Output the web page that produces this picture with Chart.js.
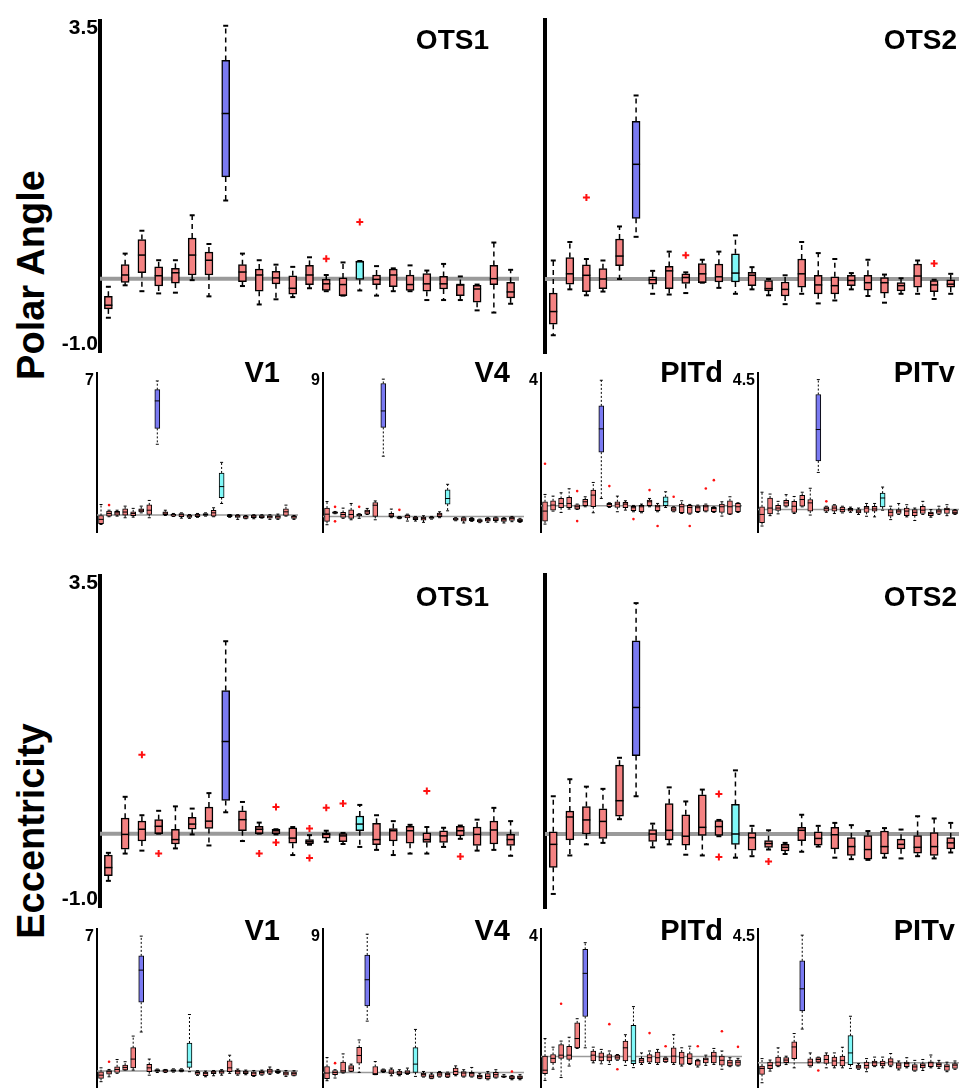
<!DOCTYPE html>
<html>
<head>
<meta charset="utf-8">
<script src="https://cdn.jsdelivr.net/npm/chart.js@4.4.1/dist/chart.umd.min.js"></script>
<style>
  html, body { margin: 0; padding: 0; background: #fff; overflow: hidden; }
  #fig { position: relative; width: 965px; height: 1088px; overflow: hidden; background: #fff; }
  #fig canvas { position: absolute; }
  .side { position: absolute; font: bold 38px "Liberation Sans", Arial, sans-serif; line-height: 38px;
          white-space: nowrap; transform: translate(-50%, -50%) rotate(-90deg); color: #000; }
  .ttl { position: absolute; font-family: "Liberation Sans", Arial, sans-serif; font-weight: bold;
         line-height: 1; white-space: nowrap; color: #000; text-align: right; }
</style>
</head>
<body>
<div id="fig">
  <div class="side" style="left:31px;top:275px">Polar Angle</div>
  <div class="side" style="left:31px;top:831px">Eccentricity</div>
</div>
<script>
// one box = [lower whisker, q1, median, q3, upper whisker]
const boxLabels = ['1','2','3','4','5','6','7','8','9','10','11','12','13','14','15','16','17','18','19','20','21','22','23','24','25'];

const bigTickLabels = ['-1.0', '3.5'];
const v1TickLabels = ['7'];
const v4TickLabels = ['9'];
const pitdTickLabels = ['4'];
const pitvTickLabels = ['4.5'];

// ---------- Polar Angle ----------
const paOts1 = [
  [-0.53,-0.41,-0.36,-0.24,-0.11],[-0.09,-0.05,0.05,0.19,0.34],[-0.17,0.08,0.32,0.53,0.65],[-0.20,-0.10,0.04,0.16,0.25],
  [-0.19,-0.06,0.08,0.14,0.25],[-0.02,0.05,0.32,0.55,0.86],[-0.24,0.05,0.25,0.36,0.47],[1.06,1.38,2.24,2.96,3.43],
  [-0.10,-0.04,0.09,0.19,0.34],[-0.35,-0.17,0.05,0.13,0.25],[-0.28,-0.07,0.01,0.10,0.19],[-0.25,-0.21,-0.13,0.04,0.16],
  [-0.13,-0.08,0.05,0.18,0.29],[-0.17,-0.16,-0.07,-0.01,0.05],[-0.23,-0.23,-0.08,0.01,0.22],[-0.16,-0.01,0.23,0.24,0.24],
  [-0.23,-0.08,-0.01,0.05,0.17],[-0.17,-0.11,0.05,0.13,0.14],[-0.17,-0.16,-0.08,0.05,0.18],[-0.29,-0.17,-0.07,0.07,0.11],
  [-0.29,-0.14,-0.07,0.03,0.20],[-0.29,-0.23,-0.08,-0.08,0.03],[-0.43,-0.32,-0.14,-0.09,-0.08],[-0.46,-0.08,0.0,0.18,0.49],
  [-0.34,-0.26,-0.18,-0.05,0.12]
];
const paOts1Out = [[13, 0.27], [15, 0.77]];

const paOts2 = [
  [-0.76,-0.61,-0.44,-0.19,0.25],[-0.14,-0.07,0.07,0.29,0.50],[-0.22,-0.17,0.05,0.19,0.27],[-0.17,-0.13,0.0,0.14,0.25],
  [0.0,0.18,0.31,0.54,0.71],[0.57,0.82,1.55,2.13,2.48],[-0.20,-0.07,-0.01,0.03,0.11],[-0.21,-0.13,0.11,0.17,0.37],
  [-0.19,-0.06,0.02,0.07,0.09],[-0.05,-0.05,0.07,0.21,0.26],[-0.12,-0.04,0.03,0.20,0.37],[-0.20,-0.04,0.08,0.34,0.59],
  [-0.14,-0.09,0.05,0.09,0.16],[-0.22,-0.16,-0.13,-0.02,0.0],[-0.34,-0.23,-0.14,-0.04,0.05],[-0.20,-0.11,0.07,0.27,0.50],
  [-0.33,-0.20,-0.08,0.05,0.35],[-0.29,-0.20,-0.09,0.03,0.27],[-0.14,-0.09,-0.02,0.05,0.08],[-0.23,-0.15,-0.05,0.05,0.26],
  [-0.32,-0.19,-0.05,0.02,0.06],[-0.20,-0.16,-0.09,-0.05,0.01],[-0.20,-0.11,0.04,0.20,0.25],[-0.27,-0.17,-0.08,-0.02,-0.01],
  [-0.20,-0.11,-0.07,-0.01,0.07]
];
const paOts2Out = [[2, 1.10], [8, 0.32], [23, 0.21]];

const paV1 = [
  [-0.46,-0.42,-0.21,-0.02,0.52],[-0.08,-0.05,0.08,0.20,0.24],[-0.05,0.0,0.11,0.18,0.24],[-0.13,0.0,0.15,0.31,0.44],
  [-0.10,-0.03,0.08,0.16,0.33],[0.11,0.15,0.24,0.31,0.44],[-0.13,0.03,0.24,0.50,0.72],[3.48,4.26,5.61,6.16,6.59],
  [-0.02,0.02,0.10,0.16,0.24],[-0.07,-0.05,0.02,0.05,0.08],[-0.15,-0.08,0.02,0.08,0.11],[-0.16,-0.11,-0.05,0.0,0.03],
  [-0.11,-0.08,0.0,0.05,0.08],[-0.05,-0.02,0.03,0.08,0.11],[-0.08,-0.05,0.11,0.24,0.36],[0.57,0.86,1.40,2.07,2.59],
  [-0.11,-0.08,-0.02,0.02,0.03],[-0.21,-0.11,-0.05,0.0,0.02],[-0.18,-0.16,-0.08,-0.03,-0.02],[-0.18,-0.13,-0.05,0.0,0.02],
  [-0.15,-0.13,-0.05,-0.02,0.02],[-0.21,-0.15,-0.08,-0.02,0.02],[-0.21,-0.16,-0.08,-0.02,0.05],[-0.05,-0.02,0.16,0.31,0.49],
  [-0.21,-0.16,-0.08,-0.03,-0.02]
];
const paV1Out = [[1, 0.49]];

const paV4 = [
  [-0.52,-0.31,0.14,0.52,0.93],[0.17,0.19,0.25,0.29,0.31],[-0.12,-0.06,0.12,0.25,0.52],[-0.21,-0.12,0.12,0.41,0.81],
  [-0.12,0.04,0.10,0.14,0.17],[0.12,0.14,0.29,0.39,0.50],[-0.21,0.0,0.70,0.87,0.97],[3.77,5.57,6.60,8.32,8.59],
  [-0.08,-0.02,0.08,0.19,0.46],[-0.14,-0.12,-0.06,-0.02,0.0],[-0.29,-0.10,0.04,0.10,0.14],[-0.29,-0.21,-0.12,-0.04,0.0],
  [-0.37,-0.23,-0.12,-0.04,0.04],[-0.17,-0.12,-0.06,-0.02,0.0],[-0.08,-0.02,0.10,0.21,0.29],[0.35,0.77,1.12,1.66,2.01],
  [-0.27,-0.23,-0.17,-0.10,-0.08],[-0.41,-0.29,-0.17,-0.08,-0.04],[-0.31,-0.27,-0.19,-0.12,-0.08],[-0.39,-0.35,-0.27,-0.19,-0.17],
  [-0.37,-0.29,-0.21,-0.12,-0.08],[-0.35,-0.27,-0.17,-0.08,-0.04],[-0.41,-0.31,-0.21,-0.12,-0.08],[-0.33,-0.25,-0.12,-0.04,0.0],
  [-0.37,-0.33,-0.25,-0.17,-0.12]
];
const paV4Out = [[1, 0.60], [1, -0.31], [4, 0.60], [9, 0.41]];

const paPitd = [
  [-0.55,-0.46,-0.16,0.12,0.34],[-0.16,-0.13,0.02,0.15,0.29],[-0.20,-0.06,0.07,0.22,0.39],[-0.10,-0.06,0.07,0.25,0.51],
  [-0.11,-0.10,-0.03,0.03,0.05],[-0.03,0.0,0.12,0.19,0.27],[-0.21,-0.03,0.32,0.47,0.70],[0.22,1.61,2.31,3.0,3.77],
  [-0.05,-0.03,0.04,0.07,0.09],[-0.18,-0.05,0.05,0.12,0.29],[-0.13,-0.06,0.05,0.10,0.15],[-0.18,-0.15,-0.06,-0.02,0.01],
  [-0.21,-0.18,-0.03,0.01,0.05],[-0.03,0.0,0.12,0.17,0.22],[-0.18,-0.15,-0.03,0.02,0.07],[-0.05,0.0,0.12,0.27,0.42],
  [-0.18,-0.16,-0.10,-0.04,-0.03],[-0.23,-0.21,-0.03,0.05,0.15],[-0.25,-0.23,-0.05,0.01,0.04],[-0.20,-0.18,-0.06,-0.01,0.02],
  [-0.18,-0.16,-0.03,0.02,0.05],[-0.20,-0.18,-0.08,-0.05,-0.03],[-0.31,-0.20,-0.03,0.05,0.12],[-0.26,-0.25,-0.03,0.15,0.27],
  [-0.20,-0.18,-0.03,0.07,0.09]
];
const paPitdOut = [[0, 1.26], [4, 0.44], [4, -0.46], [8, 0.59], [11, -0.40], [13, 0.47], [14, -0.61], [16, 0.27], [18, -0.61], [20, 0.52], [21, 0.77]];

const paPitv = [
  [-0.54,-0.43,-0.16,0.09,0.57],[-0.20,-0.14,0.05,0.38,0.51],[-0.14,-0.03,0.05,0.14,0.27],[0.09,0.11,0.22,0.30,0.49],
  [-0.13,-0.09,0.11,0.27,0.43],[0.09,0.11,0.33,0.47,0.57],[-0.18,-0.05,0.22,0.33,0.70],[1.22,1.60,2.63,3.78,4.27],
  [-0.09,-0.05,0.03,0.09,0.11],[-0.13,-0.05,0.05,0.13,0.16],[-0.11,-0.08,0.0,0.08,0.11],[-0.09,-0.05,0.0,0.04,0.08],
  [-0.16,-0.11,-0.05,0.0,0.05],[-0.22,-0.09,0.05,0.11,0.20],[-0.24,-0.05,0.02,0.11,0.20],[-0.02,0.09,0.38,0.54,0.74],
  [-0.33,-0.22,-0.09,0.0,0.11],[-0.16,-0.13,-0.05,0.0,0.20],[-0.24,-0.20,-0.05,0.05,0.16],[-0.36,-0.20,-0.09,0.0,0.05],
  [-0.16,-0.13,-0.02,0.11,0.27],[-0.25,-0.20,-0.13,-0.08,0.0],[-0.16,-0.13,-0.05,0.0,0.11],[-0.20,-0.13,0.0,0.05,0.16],
  [-0.16,-0.14,-0.09,-0.02,0.0]
];
const paPitvOut = [[8, 0.27]];

// ---------- Eccentricity ----------
const ecOts1 = [
  [-0.64,-0.57,-0.46,-0.29,-0.26],[-0.27,-0.21,-0.01,0.21,0.50],[-0.23,-0.10,0.06,0.17,0.25],[0.0,0.0,0.10,0.19,0.31],
  [-0.20,-0.14,-0.08,0.06,0.37],[-0.01,0.06,0.13,0.22,0.34],[-0.16,0.07,0.17,0.36,0.55],[0.29,0.45,1.25,1.94,2.61],
  [-0.10,0.04,0.19,0.31,0.43],[0.0,0.0,0.06,0.10,0.15],[-0.01,0.0,0.04,0.06,0.06],[-0.29,-0.13,-0.06,0.08,0.09],
  [-0.15,-0.14,-0.11,-0.08,-0.02],[-0.11,-0.06,-0.01,0.01,0.04],[-0.14,-0.11,-0.03,0.0,0.01],[-0.18,0.04,0.13,0.24,0.39],
  [-0.22,-0.15,-0.08,0.14,0.25],[-0.29,-0.10,0.04,0.07,0.17],[-0.27,-0.13,0.04,0.10,0.12],[-0.27,-0.12,-0.08,0.01,0.09],
  [-0.18,-0.12,-0.03,0.04,0.08],[-0.07,-0.03,0.04,0.10,0.11],[-0.23,-0.16,-0.01,0.09,0.19],[-0.22,-0.14,0.05,0.17,0.35],
  [-0.30,-0.16,-0.08,-0.01,0.17]
];
const ecOts1Out = [[2, 1.07], [3, -0.27], [9, -0.27], [10, 0.36], [10, -0.12], [12, 0.07], [12, -0.33], [13, 0.35], [14, 0.41], [19, 0.58], [21, -0.31]];

const ecOts2 = [
  [-0.81,-0.45,-0.14,0.03,0.51],[-0.29,-0.08,0.23,0.31,0.74],[-0.14,0.0,0.19,0.37,0.64],[-0.12,-0.06,0.17,0.34,0.61],
  [0.20,0.24,0.45,0.93,1.03],[0.51,1.06,1.71,2.61,3.12],[-0.18,-0.10,0.0,0.06,0.14],[-0.14,-0.08,0.05,0.41,0.63],
  [-0.28,-0.15,-0.03,0.26,0.44],[-0.29,-0.02,0.09,0.53,0.60],[-0.03,-0.02,0.10,0.18,0.19],[-0.32,-0.14,0.0,0.40,0.86],
  [-0.30,-0.22,-0.05,0.02,0.11],[-0.21,-0.18,-0.13,-0.09,0.05],[-0.27,-0.23,-0.18,-0.14,-0.12],[-0.24,-0.09,0.05,0.09,0.26],
  [-0.17,-0.15,-0.06,0.03,0.11],[-0.32,-0.20,-0.01,0.09,0.15],[-0.34,-0.29,-0.17,-0.05,0.12],[-0.35,-0.34,-0.21,-0.02,0.04],
  [-0.32,-0.27,-0.17,0.04,0.08],[-0.33,-0.20,-0.14,-0.07,0.06],[-0.30,-0.26,-0.18,-0.02,0.24],[-0.33,-0.29,-0.17,0.02,0.21],
  [-0.25,-0.20,-0.12,-0.05,0.15]
];
const ecOts2Out = [[10, 0.54], [10, -0.31], [13, -0.37]];

const ecV1 = [
  [-0.52,-0.36,-0.20,-0.03,0.16],[-0.28,-0.15,-0.03,0.03,0.08],[-0.11,-0.07,0.08,0.21,0.57],[0.05,0.05,0.18,0.29,0.46],
  [0.05,0.16,0.59,1.15,1.72],[1.92,3.38,4.96,5.66,6.63],[-0.20,-0.03,0.16,0.33,0.59],[-0.07,-0.02,0.03,0.07,0.10],
  [-0.07,-0.05,0.02,0.07,0.08],[-0.05,-0.02,0.03,0.08,0.11],[-0.03,-0.02,0.03,0.08,0.11],[-0.03,0.18,0.44,1.38,2.78],
  [-0.21,-0.16,-0.07,-0.02,0.02],[-0.28,-0.23,-0.11,-0.05,0.0],[-0.23,-0.13,-0.05,0.0,0.03],[-0.20,-0.11,-0.03,0.02,0.07],
  [-0.11,-0.03,0.16,0.50,0.78],[-0.20,-0.15,-0.03,0.05,0.10],[-0.18,-0.13,-0.05,0.0,0.05],[-0.26,-0.23,-0.10,-0.03,0.03],
  [-0.20,-0.16,-0.07,0.0,0.05],[-0.16,-0.11,0.0,0.10,0.20],[-0.11,-0.08,-0.02,0.03,0.08],[-0.26,-0.20,-0.10,-0.03,0.03],
  [-0.23,-0.21,-0.11,-0.03,0.02]
];
const ecV1Out = [[1, 0.46]];

const ecV4 = [
  [-0.52,-0.39,-0.04,0.37,0.93],[-0.35,-0.14,0.0,0.12,0.17],[-0.04,0.0,0.10,0.64,1.16],[0.06,0.06,0.27,0.43,0.52],
  [0.0,0.58,1.06,1.57,2.03],[3.21,4.16,5.80,7.35,8.65],[-0.14,-0.14,-0.08,0.37,0.68],[0.0,0.04,0.10,0.17,0.21],
  [-0.21,-0.10,0.02,0.17,0.27],[-0.21,-0.14,-0.04,0.08,0.17],[-0.12,-0.08,0.02,0.12,0.27],[-0.25,0.0,0.52,1.55,2.69],
  [-0.29,-0.25,-0.12,-0.04,0.06],[-0.39,-0.37,-0.25,-0.14,-0.04],[-0.29,-0.25,-0.10,0.0,0.06],[-0.31,-0.29,-0.14,-0.04,0.02],
  [-0.21,-0.14,0.06,0.27,0.41],[-0.29,-0.25,-0.04,0.06,0.17],[-0.29,-0.25,-0.08,0.0,0.31],[-0.39,-0.37,-0.25,-0.17,-0.08],
  [-0.46,-0.41,-0.25,-0.08,0.06],[-0.35,-0.31,-0.14,0.0,0.17],[-0.31,-0.29,-0.25,-0.21,-0.14],[-0.46,-0.39,-0.29,-0.21,-0.19],
  [-0.46,-0.39,-0.29,-0.21,-0.14]
];
const ecV4Out = [[1, 0.58], [23, 0.06]];

const ecPitd = [
  [-0.75,-0.54,-0.43,0.01,0.56],[-0.40,-0.20,-0.06,0.06,0.29],[-0.66,-0.06,0.04,0.37,0.48],[-0.30,-0.09,0.04,0.32,0.60],
  [0.25,0.27,0.56,1.05,1.18],[0.27,1.25,2.60,3.35,3.56],[-0.20,-0.14,0.04,0.17,0.29],[-0.23,-0.14,-0.02,0.11,0.22],
  [-0.25,-0.14,-0.02,0.06,0.17],[-0.12,-0.09,-0.02,0.04,0.06],[-0.28,-0.14,0.27,0.48,0.68],[-0.35,-0.23,-0.14,0.97,1.56],
  [-0.25,-0.20,-0.12,-0.06,0.11],[-0.22,-0.18,-0.04,0.06,0.17],[-0.25,-0.20,-0.04,0.14,0.22],[-0.18,-0.17,-0.09,-0.04,-0.02],
  [-0.25,-0.20,0.01,0.27,0.68],[-0.30,-0.25,-0.04,0.14,0.27],[-0.25,-0.23,-0.06,0.09,0.32],[-0.33,-0.28,-0.14,-0.11,-0.09],
  [-0.28,-0.20,-0.09,-0.04,0.04],[-0.25,-0.20,0.01,0.14,0.25],[-0.40,-0.27,-0.12,0.01,0.17],[-0.32,-0.30,-0.20,-0.11,-0.04],
  [-0.30,-0.28,-0.18,-0.11,-0.06]
];
const ecPitdOut = [[2, 1.65], [8, 1.01], [9, -0.40], [13, 0.73], [15, 0.32], [19, 0.32], [22, 0.79], [24, 0.30]];

const ecPitv = [
  [-0.67,-0.39,-0.19,-0.11,0.14],[-0.28,-0.20,-0.09,0.02,0.09],[-0.13,-0.11,0.02,0.19,0.50],[-0.06,0.0,0.09,0.17,0.22],
  [-0.17,0.14,0.53,0.70,0.98],[1.13,1.74,2.48,3.42,4.28],[-0.14,-0.11,0.02,0.13,0.33],[0.0,0.02,0.11,0.17,0.19],
  [-0.17,-0.02,0.11,0.26,0.33],[-0.17,-0.11,0.06,0.19,0.33],[-0.17,-0.11,0.08,0.22,0.52],[-0.19,-0.06,0.33,0.91,1.56],
  [-0.22,-0.19,-0.14,-0.08,-0.03],[-0.30,-0.19,-0.09,0.02,0.14],[-0.13,-0.11,0.0,0.06,0.19],[-0.17,-0.11,-0.03,0.06,0.19],
  [-0.13,-0.09,0.03,0.14,0.31],[-0.24,-0.19,-0.08,0.0,0.06],[-0.17,-0.13,-0.03,0.02,0.17],[-0.28,-0.26,-0.14,-0.06,0.08],
  [-0.26,-0.17,-0.09,-0.03,0.11],[-0.17,-0.13,0.0,0.03,0.26],[-0.19,-0.14,-0.06,0.0,0.08],[-0.30,-0.26,-0.13,-0.06,0.02],
  [-0.22,-0.19,-0.08,-0.03,0.06]
];
const ecPitvOut = [[7, -0.26]];

const RED = '#f48282';
const BLUE = '#7a7af2';
const CYAN = '#80f8f8';
const FONT = '"Liberation Sans", Arial, sans-serif';

// panel layout: axisX = left edge of the plot, top/h = plot area
const panels = [
  { title: 'OTS1', stats: paOts1, out: paOts1Out, ticks: bigTickLabels, min: -1, max: 3.5, axisX: 100, top: 20, w: 425, h: 333, blue: 7, cyan: 15, big: true, tx: 489, ty: 26 },
  { title: 'OTS2', stats: paOts2, out: paOts2Out, ticks: [], min: -1, max: 3.5, axisX: 545, top: 20, w: 420, h: 333, blue: 5, cyan: 11, big: true, tx: 957, ty: 26 },
  { title: 'V1', stats: paV1, out: paV1Out, ticks: v1TickLabels, min: -0.85, max: 7, axisX: 97, top: 372, w: 205, h: 161, blue: 7, cyan: 15, tx: 280, ty: 358 },
  { title: 'V4', stats: paV4, out: paV4Out, ticks: v4TickLabels, min: -1, max: 9, axisX: 323, top: 372, w: 205, h: 161, blue: 7, cyan: 15, tx: 510, ty: 358 },
  { title: 'PITd', stats: paPitd, out: paPitdOut, ticks: pitdTickLabels, min: -0.8, max: 4, axisX: 541, top: 372, w: 205, h: 161, blue: 7, cyan: 15, tx: 723, ty: 358 },
  { title: 'PITv', stats: paPitv, out: paPitvOut, ticks: pitvTickLabels, min: -0.75, max: 4.5, axisX: 758, top: 372, w: 205, h: 161, blue: 7, cyan: 15, tx: 955, ty: 358 },
  { title: 'OTS1', stats: ecOts1, out: ecOts1Out, ticks: bigTickLabels, min: -1, max: 3.5, axisX: 100, top: 575, w: 425, h: 333, blue: 7, cyan: 15, big: true, tx: 489, ty: 583 },
  { title: 'OTS2', stats: ecOts2, out: ecOts2Out, ticks: [], min: -1, max: 3.5, axisX: 545, top: 575, w: 420, h: 333, blue: 5, cyan: 11, big: true, tx: 957, ty: 583 },
  { title: 'V1', stats: ecV1, out: ecV1Out, ticks: v1TickLabels, min: -0.85, max: 7, axisX: 97, top: 928, w: 205, h: 161, blue: 5, cyan: 11, tx: 280, ty: 916 },
  { title: 'V4', stats: ecV4, out: ecV4Out, ticks: v4TickLabels, min: -1, max: 9, axisX: 323, top: 928, w: 205, h: 161, blue: 5, cyan: 11, tx: 510, ty: 916 },
  { title: 'PITd', stats: ecPitd, out: ecPitdOut, ticks: pitdTickLabels, min: -1, max: 4, axisX: 541, top: 928, w: 205, h: 161, blue: 5, cyan: 11, tx: 723, ty: 916 },
  { title: 'PITv', stats: ecPitv, out: ecPitvOut, ticks: pitvTickLabels, min: -0.86, max: 4.5, axisX: 758, top: 928, w: 205, h: 161, blue: 5, cyan: 11, tx: 955, ty: 916 }
];

function seg(ctx, x1, y1, x2, y2) {
  ctx.beginPath();
  ctx.moveTo(x1, y1);
  ctx.lineTo(x2, y2);
  ctx.stroke();
}

// zero line, whiskers, caps and medians
const boxPlugin = {
  id: 'boxes',
  beforeDatasetsDraw(chart, args, opts) {
    const { ctx, chartArea: a, scales: { y } } = chart;
    const y0 = y.getPixelForValue(0);
    ctx.save();
    ctx.strokeStyle = '#9a9a9a';
    ctx.lineWidth = opts.baseW;
    seg(ctx, a.left, y0, a.right, y0);
    ctx.restore();
  },
  afterDatasetsDraw(chart, args, opts) {
    const { ctx, scales: { y } } = chart;
    const meta = chart.getDatasetMeta(0);
    const stats = chart.data.datasets[0].stats;
    ctx.save();
    ctx.strokeStyle = '#000';
    meta.data.forEach((bar, i) => {
      const [lo, q1, med, q3, hi] = stats[i];
      const x = bar.x, hw = bar.width / 2;
      const yLo = y.getPixelForValue(lo), yQ1 = y.getPixelForValue(q1);
      const yMed = y.getPixelForValue(med), yQ3 = y.getPixelForValue(q3), yHi = y.getPixelForValue(hi);
      ctx.lineWidth = opts.whiskW;
      ctx.setLineDash(opts.dash);
      if (yHi < yQ3 - 1) seg(ctx, x, yQ3, x, yHi);
      if (yLo > yQ1 + 1) seg(ctx, x, yQ1, x, yLo);
      ctx.setLineDash([]);
      ctx.lineWidth = opts.capW;
      seg(ctx, x - opts.cap, yHi, x + opts.cap, yHi);
      seg(ctx, x - opts.cap, yLo, x + opts.cap, yLo);
      ctx.lineWidth = opts.medW;
      seg(ctx, x - hw, yMed, x + hw, yMed);
    });
    ctx.restore();
  }
};

function makePanel(p) {
  const fig = document.getElementById('fig');
  const big = !!p.big;
  const labelW = big ? 70 : 45;
  const pad = big ? 14 : 12;
  const cv = document.createElement('canvas');
  cv.width = labelW + p.w;
  cv.height = pad * 2 + p.h;
  cv.style.width = cv.width + 'px';
  cv.style.height = cv.height + 'px';
  cv.style.left = (p.axisX - labelW) + 'px';
  cv.style.top = (p.top - pad) + 'px';
  fig.appendChild(cv);

  const t = document.createElement('div');
  t.className = 'ttl';
  t.textContent = p.title;
  t.style.fontSize = (big ? 28 : 29) + 'px';
  t.style.right = (965 - p.tx) + 'px';
  t.style.top = p.ty + 'px';
  fig.appendChild(t);

  const perPx = (p.max - p.min) / p.h;
  const inset = 8 * perPx;
  const colours = p.stats.map((s, i) => i === p.blue ? BLUE : (i === p.cyan ? CYAN : RED));

  new Chart(cv, {
    type: 'bar',
    data: {
      labels: boxLabels,
      datasets: [
        {
          data: p.stats.map(s => [s[1], s[3]]),
          stats: p.stats,
          backgroundColor: colours,
          borderColor: '#000',
          borderWidth: big ? 1.5 : 1,
          borderSkipped: false,
          barThickness: big ? 8 : 5,
          order: 2
        },
        {
          type: 'scatter',
          data: p.out.map(([i, v]) => ({ x: boxLabels[i], y: v })),
          pointStyle: big ? 'cross' : 'circle',
          pointRadius: big ? 3.5 : 1.3,
          borderWidth: big ? 2 : 0,
          borderColor: '#ff1010',
          backgroundColor: '#ff1010',
          order: 1
        }
      ]
    },
    options: {
      responsive: false,
      animation: false,
      layout: { padding: { top: pad, bottom: pad, left: 0, right: 0 } },
      plugins: {
        legend: { display: false },
        tooltip: { enabled: false },
        boxes: big
          ? { baseW: 4, whiskW: 1.5, capW: 2, medW: 1.5, cap: 2.5, dash: [5, 4] }
          : { baseW: 1.5, whiskW: 1, capW: 1, medW: 1, cap: 1.5, dash: [2, 2] }
      },
      scales: {
        x: { display: false },
        y: {
          min: p.min,
          max: p.max,
          afterBuildTicks: s => {
            s.ticks = p.ticks.map(lbl => {
              const v = parseFloat(lbl);
              return { value: v >= p.max ? v - inset : v + inset };
            });
          },
          afterFit: s => { s.width = labelW; },
          ticks: {
            autoSkip: false,
            padding: big ? 2 : 3,
            color: '#000',
            font: { family: FONT, weight: 'bold', size: big ? 21 : 16 },
            callback: (v, i) => p.ticks[i]
          },
          grid: { display: false, drawTicks: false },
          border: { display: true, width: big ? 4 : 2, color: '#000' }
        }
      }
    },
    plugins: [boxPlugin]
  });
}

window.onload = () => {
  panels.forEach(makePanel);
};
</script>
</body>
</html>
